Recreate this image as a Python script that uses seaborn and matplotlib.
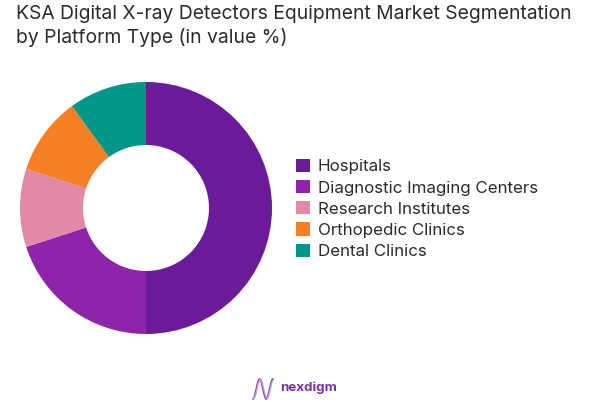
import numpy as np
import seaborn as sns
import matplotlib.pyplot as plt
from matplotlib.patches import Patch

labels = ["Hospitals", "Diagnostic Imaging Centers", "Research Institutes", "Orthopedic Clinics", "Dental Clinics"]
values = [50, 20, 10, 10, 10]
colors = ["#6a1b9a", "#8e24aa", "#e08aa8", "#f58025", "#009688"]

sns.set_theme(style="white")
plt.rcParams['font.family'] = ['Inter', 'DejaVu Sans']
text_col = "#2b2b2b"

W, H = 589, 408
fig = plt.figure(figsize=(W / 100, H / 100), dpi=100, facecolor="white")

# donut
R = 126
ax = fig.add_axes([(146 - R) / W, (H - 208 - R) / H, 2 * R / W, 2 * R / H])
wedges, _ = ax.pie(values, colors=sns.color_palette(colors), startangle=90, counterclock=False,
                   radius=1, wedgeprops=dict(width=0.5, linewidth=0))
ax.set_xlim(-1, 1)
ax.set_ylim(-1, 1)

# title
fig.text(16 / W, 1 - 5 / H, "KSA Digital X-ray Detectors Equipment Market Segmentation\nby Platform Type (in value %)",
         fontsize=13.9, color=text_col, va="top", ha="left", linespacing=1.36)

# legend
handles = [Patch(facecolor=c, edgecolor="none", label=l) for c, l in zip(colors, labels)]
fig.legend(handles=handles, loc="center left", bbox_to_anchor=(280.5 / W, 1 - 209 / H), frameon=False,
           fontsize=12.2, labelcolor=text_col, handlelength=0.82, handleheight=0.82,
           handletextpad=0.47, labelspacing=0.34)

# logo
logo = fig.add_axes([252 / W, (H - 400) / H, 22 / W, 22 / H])
t = np.linspace(0, 1, 80)
logo.plot(t, 0.5 + 0.45 * np.sin(3 * np.pi * t - np.pi / 2), color="#8e3fc0", lw=1.3)
logo.plot(t, 0.5 + 0.42 * np.sin(3 * np.pi * t - np.pi / 2 - 0.35), color="#c9a6e3", lw=0.9)
logo.set_xlim(-0.05, 1.05)
logo.set_ylim(0, 1)
logo.axis("off")
fig.text(280 / W, 1 - 388 / H, "nexdigm", fontsize=9.6, color="#7b2fa8", fontweight="bold", va="center", ha="left")

fig.savefig("out.png", dpi=100)
